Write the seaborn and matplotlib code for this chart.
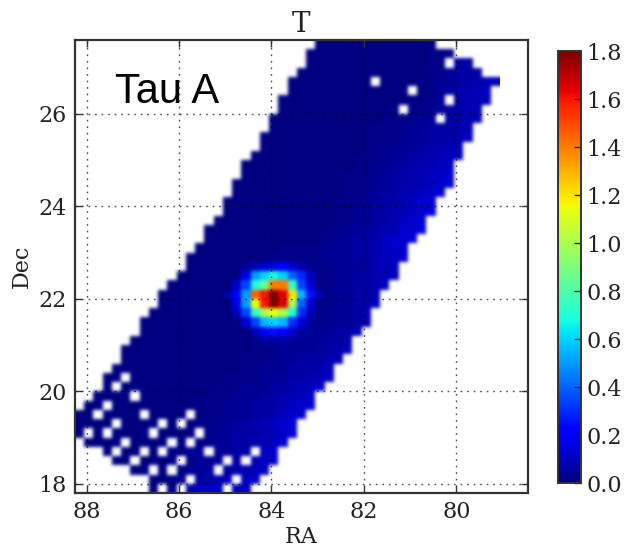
import numpy as np
import pandas as pd
import matplotlib
matplotlib.use("Agg")
import matplotlib.pyplot as plt
import seaborn as sns

# Map cells, top row first, 0.2 degree per cell. '.' means no data.
T_rows = [
"..... ..... ..... ..... ..... .0000 00000 0001. ..... ....",
"..... ..... ..... ..... ..... 00000 00000 00011 1.... ....",
"..... ..... ..... ..... ..... 00000 00000 00011 .33.. ....",
"..... ..... ..... ..... ....0 00000 00000 00011 2333. ....",
"..... ..... ..... ..... ...00 00000 00.00 00112 23344 5...",
"..... ..... ..... ..... ...00 00000 00000 0.012 33445 ....",
"..... ..... ..... ..... ..000 00000 00000 00112 .3444 ....",
"..... ..... ..... ..... ..000 00000 00001 .1122 3344. ....",
"..... ..... ..... ..... .0000 00000 00011 1122. 3344. ....",
"..... ..... ..... ..... .0000 00000 00111 12233 344.. ....",
"..... ..... ..... ..... 00000 00000 01111 22233 345.. ....",
"..... ..... ..... ..... 00000 00000 01112 22334 45... ....",
"..... ..... ..... ....0 00000 00000 11122 23344 55... ....",
"..... ..... ..... ...00 00000 00000 11122 33445 5.... ....",
"..... ..... ..... ...00 00000 00001 11223 34455 6.... ....",
"..... ..... ..... ..000 00000 00001 11223 34456 6.... ....",
"..... ..... ..... ..000 00000 00001 12233 44566 ..... ....",
"..... ..... ..... .0000 00000 00011 12233 4566. ..... ....",
"..... ..... ..... .0000 00000 00011 22334 4567. ..... ....",
"..... ..... ..... 00000 00000 00011 22334 567.. ..... ....",
"..... ..... ....0 00000 00000 00112 23344 667.. ..... ....",
"..... ..... ....0 00000 00000 01122 33456 67... ..... ....",
"..... ..... ...00 00000 00111 11222 33456 6.... ..... ....",
"..... ..... ..000 00000 01111 11222 33455 6.... ..... ....",
"..... ..... ..000 00024 78a64 11122 23445 ..... ..... ....",
"..... ..... .0000 0009f hihec 51122 33445 ..... ..... ....",
"..... ..... 00000 006di kppjd 71122 3345. ..... ..... ....",
"..... ....0 00000 03afq svtog b4122 334.. ..... ..... ....",
"..... ....0 00000 008fn svtle 71122 345.. ..... ..... ....",
"..... ...00 00000 005dj lnlic 51222 34... ..... ..... ....",
"..... ..000 00000 0007d ghgc7 31222 34... ..... ..... ....",
"..... ..000 00000 00005 aba63 22233 4.... ..... ..... ....",
"..... .0000 00000 00001 33322 22333 ..... ..... ..... ....",
"..... 00000 00000 00001 11222 23345 ..... ..... ..... ....",
"..... 00000 00000 00011 12223 3344. ..... ..... ..... ....",
"....0 00000 00000 00111 22233 345.. ..... ..... ..... ....",
"...00 .0000 00000 01111 22233 445.. ..... ..... ..... ....",
"...0. 00000 00001 11122 23344 56... ..... ..... ..... ....",
"..000 0.000 00001 11222 33445 6.... ..... ..... ..... ....",
".00.0 00000 00011 12223 33456 6.... ..... ..... ..... ....",
"00.00 00.00 00.01 12223 34566 ..... ..... ..... ..... ....",
"0000. 0000. 0.011 22334 4567. ..... ..... ..... ..... ....",
"0.0.0 000.0 001.1 22333 4567. ..... ..... ..... ..... ....",
".0000 .0000 .1.11 22334 456.. ..... ..... ..... ..... ....",
"...0. 00.0. 1122. 2233. 56... ..... ..... ..... ..... ....",
"....0 0.000 1.122 2.3.4 56... ..... ..... ..... ..... ....",
"..... .00.0 .1223 .3445 5.... ..... ..... ..... ..... ....",
"..... ...00 11.33 44.55 ..... ..... ..... ..... ..... ....",
"..... ...0. 1.466 6.55. ..... ..... ..... ..... ..... ....",
]
level_codes = list("0123456789abcdefghijklmnopqrstuv")
level_values = [0.0, 0.02, 0.04, 0.06, 0.08, 0.10, 0.12, 0.14, 0.16, 0.18,
                0.2, 0.25, 0.3, 0.35, 0.4, 0.5, 0.55, 0.6, 0.7, 0.75, 0.85,
                1.0, 1.1, 1.15, 1.2, 1.4, 1.45, 1.5, 1.6, 1.65, 1.7, 1.8]
ra_ticks = [88, 86, 84, 82, 80]
dec_ticks = [18, 20, 22, 24, 26]
cbar_ticks = [0.0, 0.2, 0.4, 0.6, 0.8, 1.0, 1.2, 1.4, 1.6, 1.8]
ra_left, dec_top, cell_deg = 88.25, 27.6, 0.2

lookup = dict(zip(level_codes, level_values))
grid = [[lookup.get(c, np.nan) for c in r.replace(" ", "").ljust(49, ".")[:49]]
        for r in T_rows]
frame = pd.DataFrame(grid)


def soften(image, dpi):
    """Soft pixel edges, as in an interpolated image."""
    alpha = image[..., 3:4]
    stack = np.concatenate([image[..., :3] * alpha, alpha], axis=2)
    kernel = np.array([1, 4, 6, 4, 1]) / 16.0
    pad = 6
    stack = np.pad(stack, ((pad, pad), (pad, pad), (0, 0)), mode="edge")
    for axis in (0, 1):
        for _ in range(3):
            stack = np.apply_along_axis(
                lambda m: np.convolve(m, kernel, mode="same"), axis, stack)
    stack = stack[pad:-pad, pad:-pad]
    new_alpha = np.clip(stack[..., 3:4], 1e-4, 1)
    out = np.concatenate([np.clip(stack[..., :3] / new_alpha, 0, 1), stack[..., 3:4]], axis=2)
    return out, 0, 0


W, H = 625, 550
fig = plt.figure(figsize=(W / 100, H / 100), dpi=100, facecolor="white")
ax = fig.add_axes([75 / W, 1 - 493 / H, 453 / W, 453 / H])
cax = fig.add_axes([558 / W, 1 - 483 / H, 23 / W, 432 / H])

sns.heatmap(frame, ax=ax, cbar_ax=cax, cmap="jet", vmin=0, vmax=1.8,
            xticklabels=False, yticklabels=False)
ax.collections[0].set_agg_filter(soften)

serif = "DejaVu Serif"
ink = "#222222"
ax.set_xticks([(ra_left - v) / cell_deg for v in ra_ticks])
ax.set_xticklabels([str(v) for v in ra_ticks], family=serif, fontsize=16, color=ink)
ax.set_yticks([(dec_top - v) / cell_deg for v in dec_ticks])
ax.set_yticklabels([str(v) for v in dec_ticks], family=serif, fontsize=16, color=ink,
                   rotation=0)
ax.tick_params(direction="in", length=5, width=1, top=True, right=True, color="#333333", pad=6)
ax.grid(True, color="black", linewidth=1.0, linestyle=(0, (1.2, 3.5)), alpha=0.7)
ax.set_axisbelow(False)
for s in ax.spines.values():
    s.set_visible(True)
    s.set_linewidth(1.6)
    s.set_color("#333333")
ax.set_xlabel("RA", family=serif, fontsize=16, color=ink, labelpad=2)
ax.set_ylabel("Dec", family=serif, fontsize=16, color=ink, labelpad=4)
ax.set_title("T", family=serif, fontsize=20, color=ink, pad=6)

cax.set_yticks(cbar_ticks)
cax.set_yticklabels([f"{v:.1f}" for v in cbar_ticks], family=serif, fontsize=16, color=ink)
cax.tick_params(direction="in", length=5, width=1, right=True, left=False, color="#222222", pad=4)
cbar = ax.collections[0].colorbar
cbar.outline.set_visible(True)
cbar.outline.set_linewidth(1.4)
cbar.outline.set_edgecolor("#333333")

fig.text(115 / W, 1 - 102.7 / H, "Tau A", family="Liberation Sans", fontsize=30,
         color="black", va="baseline", ha="left")

fig.savefig("out.png", dpi=100)
